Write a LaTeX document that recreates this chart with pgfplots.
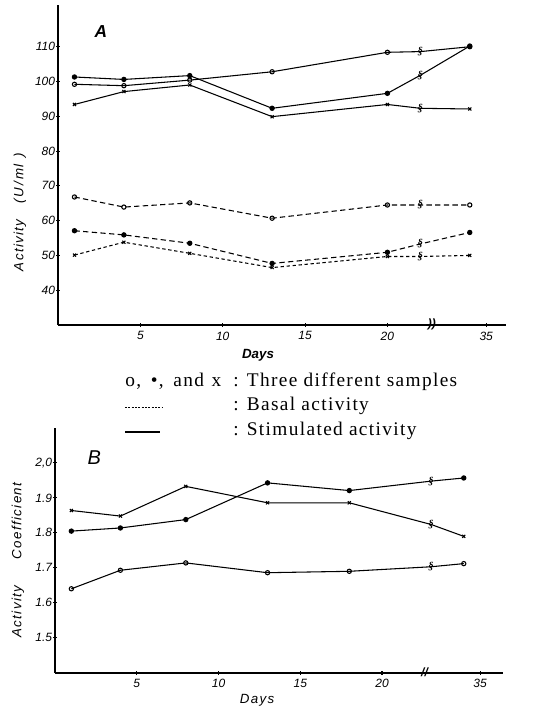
\documentclass[border=0pt]{standalone}
\usepackage{pgfplots}
\pgfplotsset{compat=1.18}
\usepackage{fontspec}
\setmainfont{Liberation Serif}
\setsansfont{Liberation Sans}
\newfontfamily\legfont[LetterSpace=7]{Liberation Serif}
\newfontfamily\labfont[LetterSpace=10]{Liberation Sans}
\begin{document}
\begin{tikzpicture}
\useasboundingbox (0pt,0pt) rectangle (408pt,534pt);
\pgfplotsset{
  myax/.style={
    scale only axis, width=336pt,
    axis lines=left, axis line style={-, line width=1.3pt},
    xmin=0, xmax=27.2,
    xtick={5,10,15,20,26}, xticklabels={5,10,15,20,35},
    tick align=center, major tick length=3pt,
    tick style={line width=0.8pt,black},
    ticklabel style={font=\sffamily\itshape\fontsize{9}{10}\selectfont},
    yticklabel style={inner xsep=0.5pt},
    /pgf/number format/assume math mode=true,
    clip=false,
    every axis plot/.append style={line width=0.8pt, black, mark size=1.6pt},
  },
  brk/.style={only marks, mark=text, text mark={\fontsize{8}{8}\selectfont\bfseries\itshape\S}},
  bas/.style={dash pattern=on 4pt off 2.5pt},
  basx/.style={dash pattern=on 2.5pt off 2pt},
}
% ---------- Panel A ----------
\begin{axis}[myax, at={(43.5pt,290.25pt)}, anchor=south west,
  height=240pt, ymin=30, ymax=122, ytick={40,50,60,70,80,90,100,110}]
% stimulated (solid)
\addplot[solid, mark=o, mark indices={1,2,3,4,5,7}] coordinates {(1,99.2)(4,98.8)(8,100.4)(13,102.8)(20,108.4)(22,108.6)(25,110.0)};
\addplot[solid, mark=*, mark indices={1,2,3,4,5,7}] coordinates {(1,101.3)(4,100.6)(8,101.7)(13,92.3)(20,96.6)(22,101.8)(25,110.2)};
\addplot[solid, mark=x, mark indices={1,2,3,4,5,7}] coordinates {(1,93.4)(4,97.1)(8,99.0)(13,89.9)(20,93.4)(22,92.3)(25,92.1)};
% basal (dashed)
\addplot[bas, mark=o, mark options={solid}, mark indices={1,2,3,4,5,7}] coordinates {(1,66.8)(4,63.9)(8,65.1)(13,60.7)(20,64.5)(22,64.5)(25,64.5)};
\addplot[bas, mark=*, mark options={solid}, mark indices={1,2,3,4,5,7}] coordinates {(1,57.1)(4,55.9)(8,53.5)(13,47.7)(20,50.9)(22,53.3)(25,56.6)};
\addplot[basx, mark=x, mark options={solid}, mark indices={1,2,3,4,5,7}] coordinates {(1,50.1)(4,53.8)(8,50.6)(13,46.5)(20,49.7)(22,49.7)(25,50.0)};
% break marks on the lines
\addplot[brk] coordinates {(22,108.6)(22,101.8)(22,92.3)(22,64.5)(22,53.3)(22,49.7)};
\node[font=\sffamily\bfseries\itshape\fontsize{9}{9}\selectfont] at (axis cs:22.7,30.3) {))};
\node[font=\sffamily\bfseries\itshape\fontsize{13}{13}\selectfont] at (axis cs:2.6,114.5) {A};
\end{axis}
% ---------- Panel B ----------
\begin{axis}[myax, at={(41.25pt,29.5pt)}, anchor=south west, xmax=27.4,
  height=183.5pt, ymin=1.4, ymax=2.1, ytick={1.5,1.6,1.7,1.8,1.9,2.0},
  yticklabels={1.5,1.6,1.7,1.8,1.9,{2,0}}]
\addplot[solid, mark=x, mark indices={1,2,3,4,5,7}] coordinates {(1,1.864)(4,1.848)(8,1.933)(13,1.886)(18,1.886)(23,1.824)(25,1.790)};
\addplot[solid, mark=*, mark indices={1,2,3,4,5,7}] coordinates {(1,1.805)(4,1.814)(8,1.838)(13,1.943)(18,1.921)(23,1.948)(25,1.957)};
\addplot[solid, mark=o, mark indices={1,2,3,4,5,7}] coordinates {(1,1.640)(4,1.693)(8,1.714)(13,1.686)(18,1.690)(23,1.703)(25,1.712)};
\addplot[brk] coordinates {(23,1.824)(23,1.948)(23,1.703)};
\node[font=\sffamily\bfseries\itshape\fontsize{9}{9}\selectfont] at (axis cs:22.6,1.4) {//};
\node[font=\sffamily\itshape\fontsize{15}{15}\selectfont] at (axis cs:2.4,2.015) {B};
\end{axis}
% ---------- axis titles ----------
\node[rotate=90, font=\labfont\itshape\fontsize{10}{10}\selectfont] at (15pt,375pt) {Activity\hspace{1.2em}(U\,/\,ml\, )};
\node[rotate=90, font=\labfont\itshape\fontsize{10}{10}\selectfont] at (13.5pt,114pt) {Activity\hspace{2em}Coefficient};
\node[font=\sffamily\bfseries\itshape\fontsize{10}{10}\selectfont] at (193.5pt,267.75pt) {Days};
\node[font=\labfont\itshape\fontsize{10}{10}\selectfont] at (192.75pt,8.5pt) {Days};
% ---------- key ----------
\node[anchor=mid west, font=\legfont\fontsize{14.5}{16}\selectfont, inner sep=0pt] at (93.75pt,246.75pt) {o,\hspace{0.5em}\textbullet,\hspace{0.5em}and\hspace{0.4em}x};
\node[anchor=mid west, font=\legfont\fontsize{14.5}{16}\selectfont, inner sep=0pt] at (174.75pt,246.75pt) {: Three different samples};
\node[anchor=mid west, font=\legfont\fontsize{14.5}{16}\selectfont, inner sep=0pt] at (174.75pt,228.75pt) {: Basal activity};
\node[anchor=mid west, font=\legfont\fontsize{14.5}{16}\selectfont, inner sep=0pt] at (174.75pt,210pt) {: Stimulated activity};
\draw[dash pattern=on 1.5pt off 1pt, line width=0.5pt] (93.75pt,228.75pt) -- (121.5pt,228.75pt);
\draw[line width=0.9pt] (93.75pt,210pt) -- (120pt,210pt);
\end{tikzpicture}
\end{document}
